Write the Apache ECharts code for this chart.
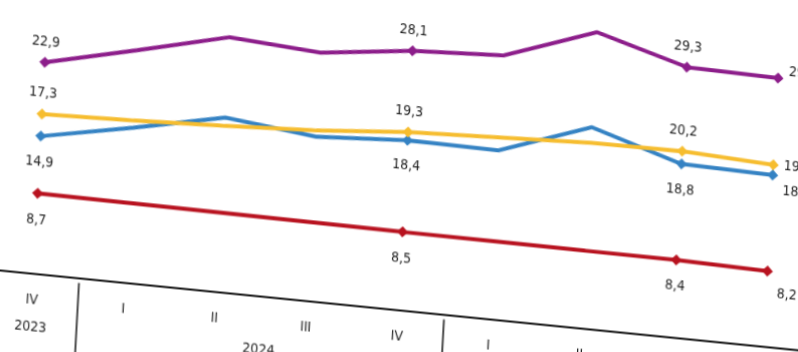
<!DOCTYPE html>
<html lang="tr">
<head>
    <meta charset="utf-8">
    <title>ECharts</title>
    <script src="https://cdn.jsdelivr.net/npm/echarts@6/dist/echarts.min.js"></script>
    <style>
        html, body { margin: 0; padding: 0; overflow: hidden; background: #fff; }
        /* the reference is a tilted photo of the chart, so the whole box is skewed a bit */
        #main {
            width: 860px; height: 440px;
            position: absolute; left: 0; top: 0;
            transform-origin: 0 0;
            transform: matrix(1, 0.1, -0.055, 1, 3.3, -60);
        }
    </style>
</head>
<body>
<div id="main"></div>
<script type="text/javascript">
    // quarters on the axis
    var quarters = ['IV', 'I', 'II', 'III', 'IV', 'I', 'II', 'III', 'IV'];
    var years = ['2023', '2024', '2025'];
    var yearQuarters = [1, 4, 4];

    // series values (only some points carry a label in the original)
    var purple = [22.9, 25.2, 27.6, 26.9, 28.1, 28.6, 32.1, 29.3, 29.1];
    var yellow = [17.3, 17.6, 18.0, 18.5, 19.3, 19.7, 20.1, 20.2, 19.7];
    var blue   = [14.9, 16.8, 18.9, 17.8, 18.4, 18.3, 21.8, 18.8, 18.6];
    var red    = [8.7, 8.65, 8.6, 8.55, 8.5, 8.47, 8.43, 8.4, 8.2];
    var labeled = [0, 4, 7, 8];

    // year label centres and dividers, from the quarter counts
    var yearCenters = [], yearBounds = [];
    var start = 0;
    for (var i = 0; i < yearQuarters.length; i++) {
        yearCenters.push(start + (yearQuarters[i] - 1) / 2);
        start += yearQuarters[i];
        if (i < yearQuarters.length - 1) yearBounds.push(start - 0.5);
    }

    var font = '"DejaVu Sans Condensed", "Liberation Sans Narrow", "Liberation Sans", sans-serif';

    function mk(name, data, color, pos, dist, lastOffset) {
        var items = [];
        for (var k = 0; k < data.length; k++) {
            if (k == data.length - 1) {
                items.push({value: data[k], label: {position: 'right', distance: 5, offset: [0, lastOffset]}});
            } else {
                items.push(data[k]);
            }
        }
        return {
            name: name,
            type: 'line',
            data: items,
            symbol: 'diamond',
            symbolSize: function (v, p) { return labeled.indexOf(p.dataIndex) >= 0 ? 11 : 0; },
            lineStyle: {color: color, width: 4},
            itemStyle: {color: color},
            label: {
                show: true,
                position: pos,
                distance: dist,
                color: '#222',
                fontFamily: font,
                fontSize: 14,
                formatter: function (p) {
                    if (labeled.indexOf(p.dataIndex) < 0) return '';
                    return p.value.toFixed(1).replace('.', ',');
                }
            }
        };
    }

    var myChart = echarts.init(document.getElementById('main'));
    var option = {
        animation: false,
        grid: {left: 2.4, right: 36.4, top: 24.3, bottom: 106.5},
        xAxis: [
            {
                type: 'category',
                data: quarters,
                axisLine: {lineStyle: {color: '#111', width: 2}},
                axisTick: {show: false},
                axisLabel: {color: '#222', fontFamily: font, fontSize: 14, margin: 15}
            },
            {
                type: 'value',
                min: -0.5,
                max: 8.5,
                position: 'bottom',
                axisLine: {show: false},
                splitLine: {show: false},
                axisTick: {
                    show: true,
                    length: 100,
                    customValues: yearBounds,
                    lineStyle: {color: '#111', width: 1.5}
                },
                axisLabel: {
                    color: '#222', fontFamily: font, fontSize: 14, margin: 42,
                    customValues: yearCenters,
                    formatter: function (v) {
                        for (var j = 0; j < yearCenters.length; j++) {
                            if (Math.abs(yearCenters[j] - v) < 0.01) return years[j];
                        }
                        return '';
                    }
                }
            }
        ],
        yAxis: {
            type: 'value',
            min: -0.5,
            max: 33,
            show: false
        },
        series: [
            mk('blue', blue, '#3482c3', 'bottom', 13, 15),
            mk('yellow', yellow, '#f6bd2f', 'top', 8, 0),
            mk('purple', purple, '#8c1d8a', 'top', 8, -7),
            mk('red', red, '#b8121f', 'bottom', 14, 22)
        ]
    };
    myChart.setOption(option);
</script>
</body>
</html>
